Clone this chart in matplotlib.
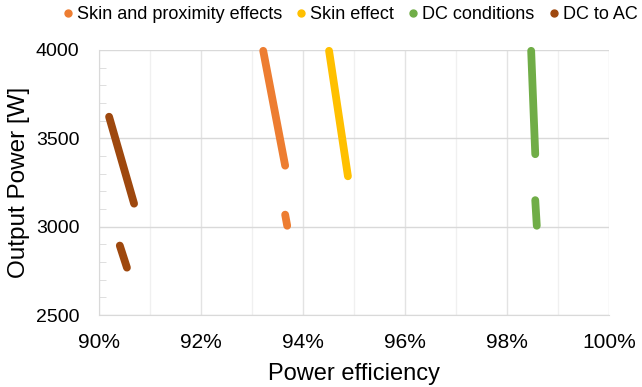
import matplotlib.pyplot as plt
from matplotlib.ticker import MultipleLocator, FuncFormatter

plt.rcParams['font.family'] = ['Liberation Sans', 'DejaVu Sans']

# efficiency (%) / output power (W) segments per case
series_names = ['Skin and proximity effects', 'Skin effect', 'DC conditions', 'DC to AC']
series_colors = ['#ED7D31', '#FFC000', '#70AD47', '#9E480E']

prox_eff = [[93.22, 93.65], [93.65, 93.69]]
prox_pow = [[3995, 3345], [3068, 3005]]

skin_eff = [[94.51, 94.88]]
skin_pow = [[3995, 3285]]

dc_eff = [[98.47, 98.51, 98.55], [98.55, 98.58]]
dc_pow = [[3995, 3700, 3410], [3150, 3005]]

dcac_eff = [[90.20, 90.69], [90.41, 90.55]]
dcac_pow = [[3622, 3130], [2893, 2768]]

all_eff = [prox_eff, skin_eff, dc_eff, dcac_eff]
all_pow = [prox_pow, skin_pow, dc_pow, dcac_pow]

fig = plt.figure(figsize=(6.42, 3.87), dpi=100)
ax = fig.add_axes([0.154, 0.186, 0.795, 0.685])

for name, color, effs, pows in zip(series_names, series_colors, all_eff, all_pow):
    for e, p in zip(effs, pows):
        ax.plot(e, p, color=color, lw=5.6, solid_capstyle='round',
                solid_joinstyle='round', zorder=3, clip_on=False)
    # legend handle
    ax.plot([], [], 'o', color=color, ms=5, label=name)

ax.set_xlim(90, 100)
ax.set_ylim(2500, 4000)
ax.xaxis.set_major_locator(MultipleLocator(2))
ax.xaxis.set_minor_locator(MultipleLocator(1))
ax.yaxis.set_major_locator(MultipleLocator(500))
ax.yaxis.set_minor_locator(MultipleLocator(100))
ax.xaxis.set_major_formatter(FuncFormatter(lambda v, pos: f'{v:.0f}%'))

ax.grid(True, which='major', axis='y', color='#D9D9D9', lw=1.0, zorder=0)
ax.grid(True, which='major', axis='x', color='#E3E3E3', lw=1.0, zorder=0)
ax.grid(True, which='minor', axis='x', color='#F0F0F0', lw=1.0, zorder=0)

for s in ['top', 'right']:
    ax.spines[s].set_visible(False)
for s in ['left', 'bottom']:
    ax.spines[s].set_color('#D9D9D9')

ax.tick_params(axis='y', which='major', length=0, labelsize=14, pad=14)
ax.tick_params(axis='x', which='major', length=0, labelsize=15, pad=13)
ax.tick_params(axis='y', which='minor', direction='in', length=5, color='#D9D9D9')
ax.tick_params(axis='x', which='minor', length=0)

ax.set_xlabel('Power efficiency', fontsize=17, labelpad=8)
ax.set_ylabel('Output Power [W]', fontsize=17.5, labelpad=4)

fig.legend(loc='center left', bbox_to_anchor=(0.095, 0.962), ncol=4, frameon=False,
           fontsize=13, handletextpad=0.1, columnspacing=0.65, handlelength=0.8,
           borderpad=0, borderaxespad=0)

fig.savefig('out.png', dpi=100)
